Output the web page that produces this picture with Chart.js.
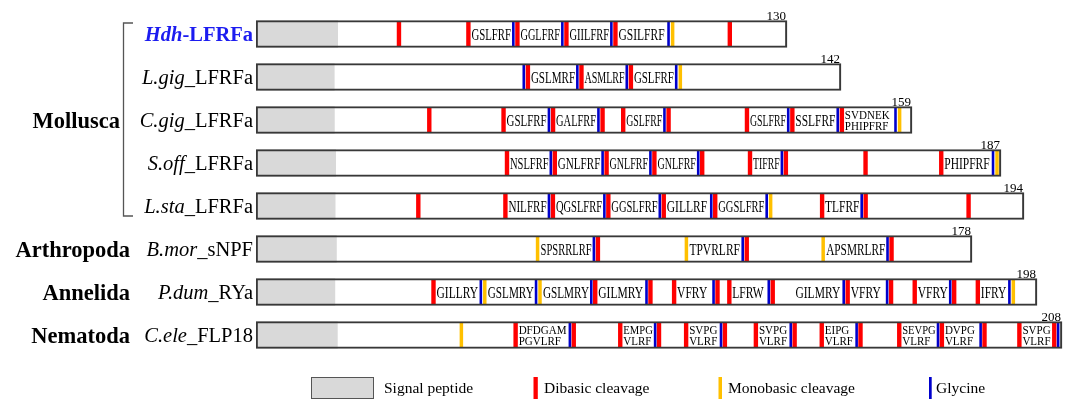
<!DOCTYPE html>
<html>
<head>
<meta charset="utf-8">
<script src="https://cdn.jsdelivr.net/npm/chart.js@4.4.1/dist/chart.umd.min.js"></script>
<style>
  html, body { margin: 0; padding: 0; background: #fff; }
  #wrap { position: relative; width: 1070px; height: 400px; }
</style>
</head>
<body>
<div id="wrap"><canvas id="c"></canvas></div>
<script>
// Precursor names: species abbreviation + peptide family
const species = ['Hdh', 'L.gig', 'C.gig', 'S.off', 'L.sta', 'B.mor', 'P.dum', 'C.ele'];
const families = ['-LFRFa', '_LFRFa', '_LFRFa', '_LFRFa', '_LFRFa', '_sNPF', '_RYa', '_FLP18'];
const precursors = species.map((s, i) => s + families[i]);

// Phylum groups: name and [first row, last row]
const phyla = ['Mollusca', 'Arthropoda', 'Annelida', 'Nematoda'];
const phylumRows = [[0, 4], [5, 5], [6, 6], [7, 7]];

// Precursor length (aa) and end of the signal peptide (aa)
const lengths = [130, 142, 159, 187, 194, 178, 198, 208];
const signalPeptide = [20, 19, 19, 20, 20, 20, 20, 21];

// Residue positions of processing sites, one list per precursor
const dibasic = [
  [35, 52, 64, 76, 88, 116],
  [66, 79, 91],
  [42, 60, 72, 84, 89, 100, 119, 130, 142],
  [63, 75, 88, 100, 112, 124, 133, 153, 172],
  [41, 63, 75, 89, 103, 116, 143, 154, 180],
  [85, 122, 158],
  [45, 86, 100, 106, 117, 120, 131, 150, 161, 167, 177, 183],
  [67, 82, 94, 104, 111, 121, 129, 139, 146, 156, 166, 177, 188, 197, 206]
];
const monobasic = [
  [102], [103], [156], [186], [130], [70, 107, 141], [58, 72, 192], [53]
];
const glycine = [
  [63, 75, 87, 101],
  [65, 78, 90, 102],
  [71, 83, 99, 129, 141, 155],
  [74, 87, 99, 111, 132, 185],
  [74, 88, 102, 115, 129, 153],
  [84, 121, 157],
  [57, 71, 85, 99, 116, 130, 149, 160, 176, 191],
  [81, 103, 120, 138, 155, 176, 187, 207]
];

// Mature peptides: [sequence, start site, end site]
const peptides = [
  [['GSLFRF', 52, 63], ['GGLFRF', 64, 75], ['GIILFRF', 76, 87], ['GSILFRF', 88, 101]],
  [['GSLMRF', 66, 78], ['ASMLRF', 79, 90], ['GSLFRF', 91, 102]],
  [['GSLFRF', 60, 71], ['GALFRF', 72, 83], ['GSLFRF', 89, 99], ['GSLFRF', 119, 129],
   ['SSLFRF', 130, 141], ['SVDNEK\nPHIPFRF', 142, 155]],
  [['NSLFRF', 63, 74], ['GNLFRF', 75, 87], ['GNLFRF', 88, 99], ['GNLFRF', 100, 111],
   ['TIFRF', 124, 132], ['PHIPFRF', 172, 185]],
  [['NILFRF', 63, 74], ['QGSLFRF', 75, 88], ['GGSLFRF', 89, 102], ['GILLRF', 103, 115],
   ['GGSLFRF', 116, 129], ['TLFRF', 143, 153]],
  [['SPSRRLRF', 70, 84], ['TPVRLRF', 107, 121], ['APSMRLRF', 141, 157]],
  [['GILLRY', 45, 57], ['GSLMRY', 58, 71], ['GSLMRY', 72, 85], ['GILMRY', 86, 99],
   ['VFRY', 106, 116], ['LFRW', 120, 130], ['GILMRY', 136, 149], ['VFRY', 150, 160],
   ['VFRY', 167, 176], ['IFRY', 183, 191]],
  [['DFDGAM\nPGVLRF', 67, 81], ['EMPG\nVLRF', 94, 103], ['SVPG\nVLRF', 111, 120],
   ['SVPG\nVLRF', 129, 138], ['EIPG\nVLRF', 146, 155], ['SEVPG\nVLRF', 166, 176],
   ['DVPG\nVLRF', 177, 187], ['SVPG\nVLRF', 197, 206]]
];

// Legend entries
const legendLabels = ['Signal peptide', 'Dibasic cleavage', 'Monobasic cleavage', 'Glycine'];

// ---- layout and style ----
const PLOT_LEFT = 256, PLOT_RIGHT = 1064;
const barSpan = [531, 585, 656, 745, 768, 716, 781, 806];   // drawn width of each precursor bar, px
const RED = '#ff0000', YELLOW = '#ffc000', BLUE = '#0000cc', GREY = '#d9d9d9';
const SERIF = '"Liberation Serif", "Times New Roman", serif';

const rowData = (i, v) => precursors.map((_, j) => (j === i ? v : null));
const datasets = [];
const scales = {
  y: { type: 'category', labels: precursors, offset: true, display: false, grid: { display: false, offset: true } }
};

lengths.forEach((len, i) => {
  const xid = 'x' + i;
  scales[xid] = {
    type: 'linear', axis: 'x', position: 'bottom', display: false, bounds: 'data',
    offset: false, beginAtZero: true, grace: 0,
    min: 0, max: len * (PLOT_RIGHT - PLOT_LEFT) / barSpan[i],
    grid: { display: false, offset: false }, ticks: { display: false }
  };
  const bar = (from, to, extra) => Object.assign({
    type: 'bar', indexAxis: 'y', xAxisID: xid, yAxisID: 'y',
    data: rowData(i, [from, to]), grouped: false, barThickness: 27, borderWidth: 0,
    borderSkipped: false, skipNull: true
  }, extra);
  datasets.push(bar(0, len, { backgroundColor: '#ffffff', order: 6 }));
  datasets.push(bar(0, signalPeptide[i], { backgroundColor: GREY, order: 5 }));
  datasets.push(bar(0, len, { backgroundColor: 'rgba(0,0,0,0)', borderColor: '#383838', borderWidth: 1.5, order: 0 }));
  const marks = (arr, color, w, ord) => datasets.push({
    type: 'scatter', xAxisID: xid, yAxisID: 'y', showLine: false, clip: false,
    data: arr.map(p => ({ x: p, y: precursors[i] })),
    pointStyle: 'line', pointRotation: 90, pointRadius: 13, pointHoverRadius: 13,
    pointBorderColor: color, pointBackgroundColor: color, pointBorderWidth: w,
    borderColor: color, order: ord
  });
  marks(dibasic[i], RED, 4.4, 3);
  marks(monobasic[i], YELLOW, 3.5, 2);
  marks(glycine[i], BLUE, 2.6, 1);
});

function drawRich(ctx, parts, xRight, yBase) {
  let total = 0;
  parts.forEach(p => { ctx.font = p.font; p.w = ctx.measureText(p.text).width; total += p.w; });
  let x = xRight - total;
  parts.forEach(p => { ctx.font = p.font; ctx.fillStyle = p.color; ctx.fillText(p.text, x, yBase); x += p.w; });
}

const annotations = {
  id: 'annotations',
  afterDatasetsDraw(chart) {
    const ctx = chart.ctx;
    const yScale = chart.scales.y;
    const rowY = i => yScale.getPixelForValue(i);
    ctx.save();
    ctx.textBaseline = 'alphabetic';
    ctx.textAlign = 'left';

    // precursor names
    precursors.forEach((_, i) => {
      const yb = rowY(i) + 7;
      if (i === 0) {
        drawRich(ctx, [
          { text: species[i], font: 'italic bold 20.5px ' + SERIF, color: '#1c1cf0' },
          { text: families[i], font: 'bold 20.5px ' + SERIF, color: '#1c1cf0' }
        ], 253, yb);
      } else {
        drawRich(ctx, [
          { text: species[i], font: 'italic 20.5px ' + SERIF, color: '#000' },
          { text: families[i], font: '20.5px ' + SERIF, color: '#000' }
        ], 253, yb);
      }
    });

    // phylum names and the bracket for the grouped rows
    ctx.fillStyle = '#000';
    ctx.font = 'bold 22.5px ' + SERIF;
    ctx.textAlign = 'right';
    phyla.forEach((name, k) => {
      const [a, b] = phylumRows[k];
      const yc = (rowY(a) + rowY(b)) / 2;
      ctx.fillText(name, b > a ? 120 : 130, yc + 8);
      if (b > a) {
        ctx.strokeStyle = '#555';
        ctx.lineWidth = 1.3;
        ctx.beginPath();
        ctx.moveTo(133, rowY(a) - 11);
        ctx.lineTo(123.5, rowY(a) - 11);
        ctx.lineTo(123.5, rowY(b) + 10);
        ctx.lineTo(133, rowY(b) + 10);
        ctx.stroke();
      }
    });

    // precursor lengths above the bar ends
    ctx.font = '13px ' + SERIF;
    ctx.textAlign = 'right';
    lengths.forEach((len, i) => {
      const xs = chart.scales['x' + i];
      ctx.fillText(String(len), xs.getPixelForValue(len) - 1, rowY(i) - 14.5);
    });

    // mature peptide sequences, condensed to fit between their sites
    ctx.textAlign = 'left';
    peptides.forEach((list, i) => {
      const xs = chart.scales['x' + i];
      const cy = rowY(i);
      list.forEach(([txt, from, to]) => {
        const x0 = xs.getPixelForValue(from) + 3;
        const x1 = xs.getPixelForValue(to) - 2.3;
        const lines = txt.split('\n');
        const two = lines.length > 1;
        ctx.font = (two ? 13 : 16) + 'px ' + SERIF;
        lines.forEach((line, k) => {
          const w = ctx.measureText(line).width;
          const sx = Math.min(two ? 0.85 : 0.72, (x1 - x0) / w);
          const yb = two ? (k === 0 ? cy - 1.5 : cy + 10.3) : cy + 5.6;
          ctx.save();
          ctx.translate(x0, yb);
          ctx.scale(sx, 1);
          ctx.fillText(line, 0, 0);
          ctx.restore();
        });
      });
    });
    ctx.restore();
  },
  afterDraw(chart) {
    const ctx = chart.ctx;
    ctx.save();
    // legend
    ctx.fillStyle = GREY;
    ctx.fillRect(311, 377, 63, 22);
    ctx.strokeStyle = '#555';
    ctx.lineWidth = 1;
    ctx.strokeRect(311.5, 377.5, 62, 21);
    ctx.fillStyle = RED;    ctx.fillRect(533.5, 377, 4.3, 22);
    ctx.fillStyle = YELLOW; ctx.fillRect(718.5, 377, 3.5, 22);
    ctx.fillStyle = BLUE;   ctx.fillRect(929, 377, 2.7, 22);
    ctx.fillStyle = '#000';
    ctx.font = '15.5px ' + SERIF;
    ctx.textAlign = 'left';
    ctx.textBaseline = 'alphabetic';
    const tx = [384, 544, 728, 936];
    legendLabels.forEach((t, k) => ctx.fillText(t, tx[k], 393));
    ctx.restore();
  }
};

new Chart(document.getElementById('c'), {
  type: 'bar',
  data: { labels: precursors, datasets },
  options: {
    responsive: true,
    maintainAspectRatio: false,
    animation: false,
    events: [],
    layout: {
      autoPadding: false,
      padding: { left: PLOT_LEFT, right: 1070 - PLOT_RIGHT, top: 12.5, bottom: 43.5 }
    },
    scales,
    plugins: { legend: { display: false }, tooltip: { enabled: false } }
  },
  plugins: [annotations]
});
</script>
</body>
</html>
